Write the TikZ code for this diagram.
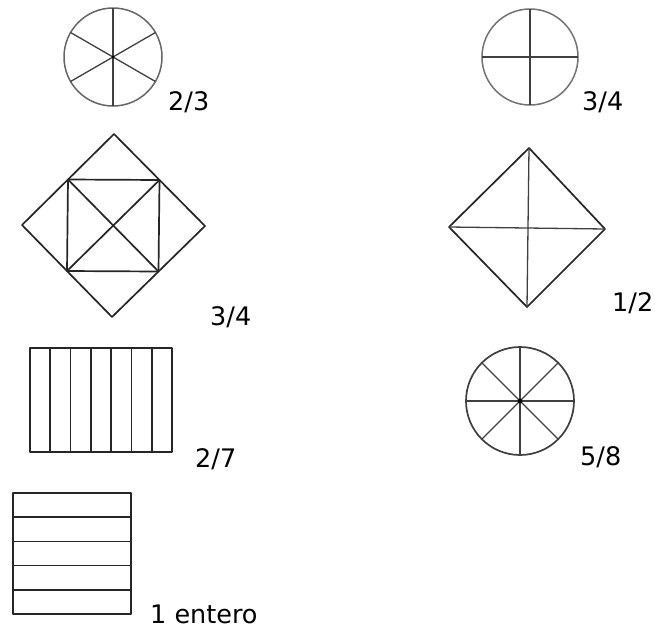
\documentclass[tikz,border=0pt]{standalone}
\usepackage{fontspec}
\setmainfont{DejaVu Sans}
\usetikzlibrary{calc}
\begin{document}
\begin{tikzpicture}[x=1pt,y=-1pt,
  fig/.style={draw=black!85,line width=1.7pt,line join=round},
  thin fig/.style={draw=black!75,line width=1.3pt},
  lbl/.style={anchor=base west,inner sep=0pt,font=\fontsize{25.5}{30}\selectfont}]
\useasboundingbox (0,0) rectangle (655,629);
% circle 2/3
\draw[fig,draw=black!60,line width=1.5pt] (113,57) circle (49);
\foreach \a in {30,90,150,210,270,330}
  \draw[thin fig] (113,57) -- ++(\a:49);
\fill (113,57) circle (1.5);
\node[lbl] (l23) at (168,110) {2/3};
% diamond 3/4
\coordinate (dt) at (114,134);
\coordinate (dl) at (22,225);
\coordinate (dr) at (205,226);
\coordinate (db) at (112,317);
\draw[fig] (dt) -- (dr) -- (db) -- (dl) -- cycle;
\coordinate (q1) at ($(dt)!0.5!(dl)$);
\coordinate (q2) at ($(dt)!0.5!(dr)$);
\coordinate (q3) at ($(db)!0.5!(dr)$);
\coordinate (q4) at ($(db)!0.5!(dl)$);
\draw[fig] (q1) -- (q2) -- (q3) -- (q4) -- cycle;
\draw[fig] (q1) -- (q3) (q2) -- (q4);
\node[lbl] (l34a) at (210,325) {3/4};
% rectangle 2/7
\draw[fig] (30,348) rectangle (172,452);
\foreach \i in {1,...,6}
  \draw[fig] ({30+\i*142/7},348) -- ({30+\i*142/7},452);
\node[lbl] (l27) at (195,467) {2/7};
% rectangle 1 entero
\draw[fig] (13,493) rectangle (131,614);
\foreach \i in {1,...,4}
  \draw[fig] (13,{493+\i*121/5}) -- (131,{493+\i*121/5});
\node[lbl] (l1) at (150,623) {1 entero};
% circle 3/4
\draw[fig,draw=black!55,line width=1.5pt] (530,57) circle (48);
\draw[thin fig] (482,57) -- (578,57) (530,9) -- (530,105);
\node[lbl] (l34b) at (582,110) {3/4};
% diamond 1/2
\coordinate (et) at (529,148);
\coordinate (el) at (449,227);
\coordinate (er) at (605,229);
\coordinate (eb) at (527,307);
\draw[fig] (et) -- (er) -- (eb) -- (el) -- cycle;
\draw[thin fig] (et) -- (eb) (el) -- (er);
\node[lbl] (l12) at (612,311) {1/2};
% circle 5/8
\draw[fig,draw=black!75] (520,401) circle (54);
\foreach \a in {0,45,...,315}
  \draw[thin fig] (520,401) -- ++(\a:54);
\fill (520,401) circle (2.5);
\node[lbl] (l58) at (580,465) {5/8};
\end{tikzpicture}
\end{document}
